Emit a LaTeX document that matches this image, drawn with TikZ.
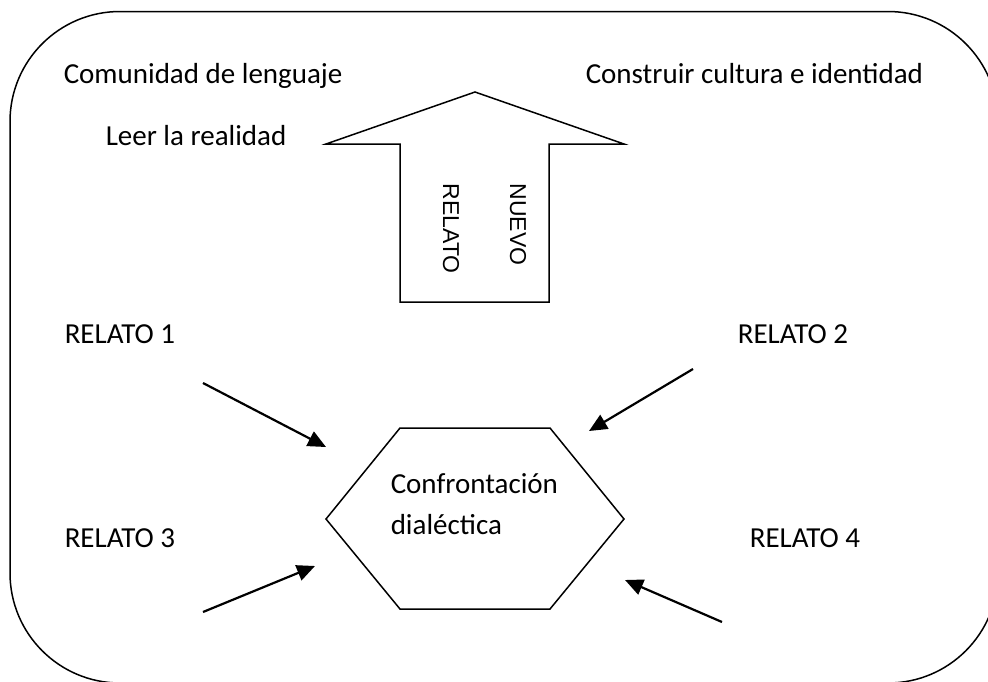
\documentclass[tikz,border=0pt]{standalone}
\usepackage{fontspec}
\setmainfont{Carlito}
\newfontfamily\arialfont{Liberation Sans}
\usepackage{tikz}
\usetikzlibrary{arrows.meta}

\begin{document}
\begin{tikzpicture}[x=1pt,y=-1pt,>={Triangle[length=18pt,width=16pt]},line width=1.5pt,
    text node/.style={anchor=base west,inner sep=0pt,font=\fontsize{29}{35}\selectfont},
    side node/.style={anchor=base west,inner sep=0pt,rotate=-90,font=\arialfont\fontsize{23}{28}\selectfont}]
  \useasboundingbox (0,0) rectangle (988,681);
  \clip (0,0) rectangle (988,681);
  % frame
  \draw[rounded corners=110pt] (10,11.5) rectangle (998,683);
  % top texts
  \node[text node] (com) at (63,83) {Comunidad de lenguaje};
  \node[text node] (con) at (585,83) {Construir cultura e identidad};
  \node[text node] (leer) at (105,145) {Leer la realidad};
  % big arrow
  \draw (400,302) -- (400,144) -- (326,144) -- (475,92) -- (624,144) -- (549,144) -- (549,302) -- cycle;
  \node[side node] (relato) at (443,183) {RELATO};
  \node[side node] (nuevo) at (510,183) {NUEVO};
  % relatos
  \node[text node] (r1) at (64,343) {RELATO 1};
  \node[text node] (r2) at (737,343) {RELATO 2};
  \node[text node] (r3) at (64,547) {RELATO 3};
  \node[text node] (r4) at (749,547) {RELATO 4};
  % hexagon
  \draw (400,428) -- (550,428) -- (624,519) -- (550,609) -- (400,609) -- (326,519) -- cycle;
  \node[text node] (conf) at (390,493) {Confrontación};
  \node[text node] (dial) at (390,534) {dialéctica};
  % arrow ends
  \coordinate (a1) at (203,383);
  \coordinate (b1) at (326,447);
  \coordinate (a2) at (693,369);
  \coordinate (b2) at (589,431);
  \coordinate (a3) at (203,612);
  \coordinate (b3) at (315,566);
  \coordinate (a4) at (722,622);
  \coordinate (b4) at (625,580);
  \path[->,line width=2.2pt] (a1) edge (b1);
  \path[->,line width=2.2pt] (a2) edge (b2);
  \path[->,line width=2.2pt] (a3) edge (b3);
  \path[->,line width=2.2pt] (a4) edge (b4);
\end{tikzpicture}
\end{document}
